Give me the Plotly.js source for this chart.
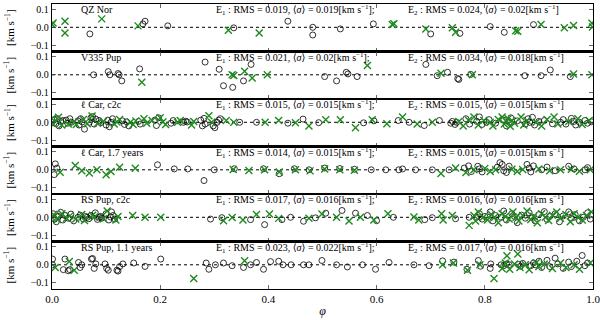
<!DOCTYPE html>
<html>
<head>
<meta charset="utf-8">
<script src="https://cdn.plot.ly/plotly-3.0.1.min.js"></script>
<style>
  html, body { margin: 0; padding: 0; background: #fff; }
  #chart { width: 600px; height: 322px; }
</style>
</head>
<body>
<div id="chart"></div>
<script>
// phase and residual velocity [km/s], one pair of arrays per set and panel

// QZ Nor
var qzPhiO = [0.07, 0.168, 0.172, 0.214, 0.336, 0.436, 0.482, 0.482, 0.533, 0.594, 0.70, 0.754, 0.81, 0.836, 0.89];
var qzResO = [-0.037, 0.019, 0.034, 0.008, -0.003, 0.034, 0.0, -0.043, -0.009, 0.019, -0.037, -0.034, 0.004, -0.028, 0.015];
var qzPhiX = [0.0, 0.002, 0.024, 0.024, 0.092, 0.159, 0.326, 0.383, 0.629, 0.632, 0.691, 0.74, 0.746, 0.857, 0.861, 0.904, 0.947, 0.964, 0.998, 0.999];
var qzResX = [0.015, 0.024, 0.034, -0.032, 0.047, 0.008, -0.017, -0.032, 0.015, 0.02, -0.009, -0.003, -0.028, -0.019, -0.022, 0.015, -0.003, 0.01, 0.023, 0.002];

// V335 Pup
var v335PhiO = [0.077, 0.104, 0.107, 0.122, 0.124, 0.129, 0.162, 0.283, 0.309, 0.317, 0.334, 0.354, 0.368, 0.504, 0.526, 0.544, 0.547, 0.564, 0.691, 0.712, 0.731, 0.75, 0.752, 0.774, 0.874, 0.904, 0.921, 0.958];
var v335ResO = [0.0, 0.018, 0.0, 0.007, 0.0, -0.034, 0.033, 0.071, 0.031, -0.061, -0.07, -0.034, 0.058, -0.01, -0.034, 0.014, 0.005, -0.01, 0.058, -0.005, 0.014, -0.021, -0.026, 0.002, -0.005, -0.005, 0.027, -0.01];
var v335PhiX = [0.166, 0.333, 0.336, 0.356, 0.37, 0.398, 0.583, 0.719, 0.777, 0.964, 0.998];
var v335ResX = [-0.042, 0.0, -0.004, 0.02, -0.018, 0.0, 0.052, 0.009, 0.0, 0.005, 0.0];

// l Car, c2c
var lcarPhiO = [0.004, 0.007, 0.01, 0.013, 0.016, 0.02, 0.026, 0.029, 0.033, 0.036, 0.048, 0.05, 0.053, 0.056, 0.06, 0.069, 0.072, 0.075, 0.078, 0.081, 0.087, 0.09, 0.1, 0.103, 0.106, 0.109, 0.112, 0.13, 0.134, 0.138, 0.142, 0.16, 0.163, 0.19, 0.193, 0.197, 0.22, 0.224, 0.243, 0.247, 0.25, 0.275, 0.278, 0.281, 0.283, 0.298, 0.301, 0.305, 0.308, 0.311,
  0.347, 0.378, 0.436, 0.464, 0.493, 0.576, 0.595, 0.64, 0.66, 0.688, 0.716, 0.737, 0.74, 0.745, 0.748,
  0.765, 0.772, 0.785, 0.79, 0.795, 0.803, 0.808, 0.82, 0.835, 0.84, 0.845, 0.848, 0.86, 0.875, 0.88, 0.883, 0.888, 0.892, 0.9, 0.91, 0.925, 0.94, 0.945, 0.95, 0.96, 0.965, 0.968, 0.975, 0.985, 0.99, 0.997];
var lcarResO = [0.015, -0.008, 0.02, -0.02, 0.005, 0.01, 0.012, -0.005, 0.02, 0.0, 0.008, -0.015, 0.02, 0.002, -0.038, 0.0, 0.025, 0.032, -0.01, 0.018, 0.01, -0.002, -0.015, 0.012, -0.025, 0.0, 0.02, 0.008, -0.012, 0.003, -0.02, 0.005, -0.01, 0.012, -0.018, 0.025, -0.005, 0.01, 0.0, 0.006, 0.002, 0.012, -0.02, 0.022, -0.01, -0.02, -0.03, 0.0, 0.012, 0.02,
  0.0, 0.0, -0.005, 0.018, -0.002, -0.003, 0.008, 0.01, 0.0, -0.018, 0.01, -0.005, 0.005, -0.012, 0.0,
  0.02, -0.01, 0.005, 0.03, -0.012, 0.0, 0.015, -0.005, 0.012, -0.02, 0.0, 0.025, 0.008, -0.01, 0.02, 0.0, 0.028, -0.015, 0.005, 0.01, -0.008, 0.0, 0.015, -0.01, 0.022, 0.005, -0.015, 0.0, 0.01, -0.005, 0.003];
var lcarPhiX = [0.0, 0.003, 0.012, 0.018, 0.03, 0.04, 0.045, 0.058, 0.065, 0.074, 0.084, 0.095, 0.115, 0.12, 0.125, 0.145, 0.15, 0.155, 0.17, 0.175, 0.185, 0.2, 0.205, 0.21, 0.232, 0.237, 0.258, 0.262, 0.29, 0.295, 0.322,
  0.336, 0.394, 0.419, 0.45, 0.475, 0.506, 0.533, 0.561, 0.592, 0.619, 0.648, 0.675, 0.703,
  0.752, 0.76, 0.77, 0.78, 0.788, 0.798, 0.81, 0.815, 0.825, 0.832, 0.836, 0.84, 0.843, 0.847, 0.85, 0.855, 0.867, 0.872, 0.878, 0.895, 0.905, 0.915, 0.928, 0.935, 0.955, 0.972, 0.98, 0.993];
var lcarResX = [0.02, -0.01, 0.028, -0.015, -0.01, 0.0, -0.012, 0.015, -0.008, 0.035, -0.006, 0.005, -0.01, 0.002, 0.015, 0.0, -0.012, 0.008, 0.02, -0.005, 0.01, 0.025, 0.002, -0.012, 0.0, 0.01, -0.015, 0.005, 0.036, 0.0, 0.01,
  0.0, 0.0, 0.01, -0.003, -0.02, 0.014, 0.014, -0.03, 0.014, -0.008, 0.03, -0.01, 0.0,
  0.005, -0.02, 0.012, 0.03, -0.015, 0.01, 0.0, -0.02, 0.015, 0.03, -0.01, 0.005, 0.02, -0.022, 0.01, -0.005, 0.03, -0.015, 0.01, 0.0, -0.02, 0.015, 0.03, -0.01, 0.005, 0.02, -0.012, 0.01];

// l Car, 1.7 years
var lcar17PhiO = [0.006, 0.009, 0.004, 0.195, 0.226, 0.251, 0.281, 0.3, 0.337, 0.391, 0.42, 0.448, 0.475, 0.504, 0.532, 0.559, 0.59, 0.617, 0.641, 0.648, 0.672, 0.703, 0.734,
  0.762, 0.77, 0.775, 0.787, 0.79, 0.795, 0.823, 0.828, 0.832, 0.835, 0.84, 0.845, 0.878, 0.882, 0.885, 0.89, 0.905, 0.915, 0.93, 0.955, 0.965, 0.985, 0.99];
var lcar17ResO = [0.033, 0.009, -0.027, 0.028, 0.005, 0.005, -0.06, 0.0, 0.006, 0.006, -0.022, 0.006, 0.0, 0.01, 0.007, 0.003, 0.0, 0.0, 0.0, 0.005, 0.0, 0.0, 0.0,
  0.01, 0.022, -0.01, 0.02, 0.005, -0.012, 0.015, 0.04, 0.03, -0.005, -0.015, 0.02, 0.03, 0.01, -0.012, 0.022, 0.0, 0.015, -0.005, 0.02, 0.005, 0.0, 0.012];
var lcar17PhiX = [0.015, 0.043, 0.055, 0.069, 0.083, 0.1, 0.109, 0.125, 0.154, 0.335, 0.364, 0.393, 0.42, 0.45, 0.477, 0.504, 0.532, 0.559, 0.719, 0.746, 0.765, 0.78, 0.8, 0.81, 0.82, 0.85, 0.86, 0.87, 0.9, 0.92, 0.94, 0.96, 0.975, 0.995];
var lcar17ResX = [-0.014, 0.024, -0.005, -0.018, 0.0, -0.027, -0.01, 0.014, 0.009, 0.002, -0.004, 0.0, -0.012, 0.0, -0.006, 0.004, 0.0, -0.003, -0.02, 0.01, -0.015, 0.0, 0.008, -0.01, 0.0, 0.003, -0.01, 0.002, 0.005, -0.005, 0.0, 0.003, -0.008, 0.0];

// RS Pup, c2c
var rsPhiO = [0.002, 0.005, 0.008, 0.012, 0.016, 0.02, 0.024, 0.03, 0.035, 0.04, 0.048, 0.052, 0.058, 0.062, 0.065, 0.068, 0.072, 0.08, 0.084, 0.088, 0.09, 0.092, 0.1, 0.105, 0.108, 0.11, 0.113, 0.116,
  0.293, 0.314, 0.367, 0.393, 0.425, 0.441, 0.465, 0.487, 0.506, 0.536, 0.561, 0.583, 0.6, 0.631, 0.689, 0.703, 0.746, 0.771,
  0.785, 0.79, 0.795, 0.8, 0.81, 0.815, 0.82, 0.83, 0.835, 0.84, 0.85, 0.855, 0.86, 0.868, 0.875, 0.882, 0.888, 0.893, 0.9, 0.91, 0.915, 0.92, 0.93, 0.938, 0.945, 0.955, 0.96, 0.967, 0.975, 0.982, 0.99, 0.995];
var rsResO = [0.02, -0.01, -0.025, 0.005, 0.028, -0.015, 0.01, -0.005, 0.018, -0.02, 0.0, 0.012, -0.01, 0.005, 0.0, -0.008, 0.01, 0.025, -0.012, 0.0, 0.005, -0.005, 0.02, -0.015, 0.002, 0.03, 0.01, -0.01,
  -0.01, -0.002, -0.013, -0.041, -0.013, 0.0, -0.022, -0.003, 0.023, 0.038, 0.023, 0.01, -0.019, 0.0, -0.013, -0.002, -0.008, 0.0,
  0.0, 0.02, -0.01, 0.005, 0.03, -0.02, 0.01, 0.0, 0.035, -0.015, 0.02, 0.005, -0.03, 0.012, -0.005, 0.025, 0.0, -0.02, 0.015, 0.032, -0.012, 0.005, 0.02, -0.025, 0.008, 0.03, -0.005, 0.015, -0.02, 0.0, 0.025, -0.01];
var rsPhiX = [0.0, 0.003, 0.01, 0.018, 0.027, 0.033, 0.044, 0.055, 0.06, 0.075, 0.078, 0.095, 0.102, 0.118, 0.122,
  0.149, 0.172, 0.201, 0.317, 0.333, 0.353, 0.378, 0.402, 0.419, 0.475, 0.499, 0.526, 0.549, 0.57, 0.595, 0.621, 0.669, 0.678, 0.72, 0.723, 0.74, 0.771,
  0.78, 0.783, 0.788, 0.797, 0.805, 0.812, 0.818, 0.825, 0.832, 0.838, 0.845, 0.852, 0.858, 0.863, 0.87, 0.878, 0.885, 0.89, 0.897, 0.905, 0.912, 0.918, 0.925, 0.933, 0.94, 0.95, 0.958, 0.965, 0.972, 0.98, 0.988, 0.997];
var rsResX = [0.0, 0.015, -0.012, 0.02, -0.005, 0.008, -0.01, 0.015, -0.018, 0.012, 0.0, -0.008, 0.035, -0.015, 0.005,
  0.01, 0.0, 0.0, -0.019, -0.001, -0.015, 0.015, 0.019, -0.006, -0.005, 0.018, 0.0, -0.02, 0.0, -0.015, 0.02, 0.002, -0.015, 0.02, -0.015, 0.01, -0.045,
  0.01, -0.02, 0.03, 0.0, -0.015, 0.015, 0.0, -0.03, 0.02, 0.005, -0.01, 0.03, 0.0, -0.02, 0.01, 0.035, -0.012, 0.005, -0.03, 0.02, 0.0, -0.018, 0.012, 0.03, -0.005, 0.015, -0.025, 0.02, 0.0, -0.015, 0.01, 0.03];

// RS Pup, 1.1 years
var rs11PhiO = [0.001, 0.001, 0.021, 0.024, 0.03, 0.033, 0.049, 0.052, 0.055, 0.073, 0.075, 0.078, 0.081, 0.098, 0.101, 0.104, 0.12, 0.122, 0.125, 0.131, 0.151, 0.172, 0.201,
  0.285, 0.29, 0.302, 0.317, 0.333, 0.354, 0.367, 0.378, 0.391, 0.404, 0.419, 0.427, 0.442, 0.465, 0.475, 0.499, 0.526, 0.546, 0.574, 0.598, 0.623, 0.669, 0.697, 0.722, 0.743, 0.767,
  0.788, 0.792, 0.811, 0.81, 0.83, 0.835, 0.84, 0.845, 0.862, 0.866, 0.87, 0.885, 0.89, 0.893, 0.9, 0.905, 0.915, 0.92, 0.93, 0.935, 0.945, 0.955, 0.96, 0.97, 0.98, 0.985, 0.99];
var rs11ResO = [0.032, 0.0, -0.027, 0.032, -0.033, -0.027, 0.013, -0.015, 0.0, 0.032, 0.035, -0.02, 0.005, 0.005, -0.02, -0.03, -0.03, -0.035, -0.01, 0.005, 0.01, -0.009, 0.032,
  0.01, -0.025, 0.0, 0.01, -0.005, -0.015, 0.0, 0.013, -0.025, 0.018, 0.02, 0.0, 0.0, 0.0, 0.0, 0.024, 0.0, -0.012, 0.0, -0.025, 0.013, 0.0, -0.005, 0.022, 0.015, -0.025,
  0.024, -0.008, 0.005, -0.02, 0.0, -0.005, 0.005, 0.0, 0.002, -0.008, 0.008, -0.005, 0.01, 0.0, 0.02, -0.015, 0.025, -0.01, 0.037, 0.005, -0.02, 0.015, -0.01, 0.02, 0.052, -0.005, 0.01];
var rs11PhiX = [0.006, 0.032, 0.041, 0.262, 0.356, 0.722, 0.742, 0.768, 0.791, 0.817, 0.832, 0.838, 0.841, 0.846, 0.855, 0.861, 0.865, 0.875, 0.882, 0.895, 0.9, 0.91, 0.925, 0.94, 0.95, 0.965, 0.975, 0.995];
var rs11ResX = [-0.015, 0.018, -0.03, -0.076, 0.022, 0.0, 0.01, -0.03, 0.0, -0.076, -0.02, 0.01, 0.05, -0.025, 0.005, 0.06, -0.015, 0.0, -0.028, 0.012, -0.01, 0.005, -0.02, 0.01, -0.015, 0.0, -0.025, 0.01];

var starNames = ['QZ Nor', 'V335 Pup', 'ℓ Car, c2c', 'ℓ Car, 1.7 years', 'RS Pup, c2c', 'RS Pup, 1.1 years'];
var rms1 = ['0.019', '0.021', '0.015', '0.014', '0.017', '0.023'];
var sig1 = ['0.019', '0.02', '0.015', '0.015', '0.016', '0.022'];
var rms2 = ['0.024', '0.034', '0.015', '0.015', '0.016', '0.017'];
var sig2 = ['0.02', '0.018', '0.015', '0.015', '0.016', '0.016'];
var phaseTicks = [0, 0.2, 0.4, 0.6, 0.8, 1.0];
var resTicks = [-0.1, 0, 0.1];

var panels = [
  [qzPhiO, qzResO, qzPhiX, qzResX],
  [v335PhiO, v335ResO, v335PhiX, v335ResX],
  [lcarPhiO, lcarResO, lcarPhiX, lcarResX],
  [lcar17PhiO, lcar17ResO, lcar17PhiX, lcar17ResX],
  [rsPhiO, rsResO, rsPhiX, rsResX],
  [rs11PhiO, rs11ResO, rs11PhiX, rs11ResX]
];

function draw_panels() {
  var serif = 'Liberation Serif, DejaVu Serif, serif';
  var green = '#1f8a1f';
  var n = panels.length;
  var traces = [];
  var shapes = [];
  var annotations = [];
  var layout = {
    width: 600, height: 322,
    margin: {l: 52, r: 7, t: 4, b: 33},
    paper_bgcolor: '#fff', plot_bgcolor: '#fff',
    showlegend: false,
    font: {family: serif, size: 10, color: '#000'}
  };

  for (var i = 0; i < n; i++) {
    var k = i + 1;
    var xa = k == 1 ? 'x' : 'x' + k;
    var ya = k == 1 ? 'y' : 'y' + k;
    traces.push({
      x: panels[i][0], y: panels[i][1], xaxis: xa, yaxis: ya,
      type: 'scatter', mode: 'markers',
      marker: {symbol: 'circle-open', size: 6, color: '#000', line: {width: 0.8, color: '#000'}}
    });
    traces.push({
      x: panels[i][2], y: panels[i][3], xaxis: xa, yaxis: ya,
      type: 'scatter', mode: 'markers',
      marker: {symbol: 'x-thin-open', size: 7, color: green, line: {width: 1.4, color: green}}
    });

    var dTop = 1 - i / n, dBot = 1 - (i + 1) / n;
    layout['xaxis' + (k == 1 ? '' : k)] = {
      domain: [0, 1], anchor: ya, range: [0, 1],
      showline: true, linewidth: 1.2, linecolor: '#000', mirror: 'ticks',
      ticks: 'inside', ticklen: 4, tickwidth: 0.8, tickvals: phaseTicks,
      showgrid: false, zeroline: false,
      showticklabels: i == n - 1, tickformat: '.1f', ticklabeloverflow: 'allow',
      tickfont: {family: serif, size: 11},
      title: i == n - 1 ? {text: '<i>φ</i>', font: {family: serif, size: 12}, standoff: 2} : {text: ''}
    };
    layout['yaxis' + (k == 1 ? '' : k)] = {
      domain: [dBot, dTop], anchor: xa, range: [-0.135, 0.13],
      showline: true, linewidth: 1.2, linecolor: '#000', mirror: 'ticks',
      ticks: 'inside', ticklen: 4, tickwidth: 0.8, tickvals: resTicks, tickformat: '.1f',
      showgrid: false, zeroline: false,
      tickfont: {family: serif, size: 10}
    };

    shapes.push({type: 'line', xref: xa, yref: ya, x0: 0, x1: 1, y0: 0, y1: 0,
      line: {color: '#000', width: 1, dash: 'dot'}, layer: 'below'});

    annotations.push({xref: xa, yref: ya, x: 0.05, y: 0.098, xanchor: 'left', yanchor: 'middle',
      text: starNames[i], showarrow: false, font: {family: serif, size: 10}});
    annotations.push({xref: xa, yref: ya, x: 0.30, y: 0.095, xanchor: 'left', yanchor: 'middle',
      text: 'E<sub>1</sub> : RMS = ' + rms1[i] + ', ⟨<i>σ</i>⟩ = ' + sig1[i] + '[km s<sup>−1</sup>];',
      showarrow: false, font: {family: serif, size: 10}});
    annotations.push({xref: xa, yref: ya, x: 0.655, y: 0.095, xanchor: 'left', yanchor: 'middle',
      text: 'E<sub>2</sub> : RMS = ' + rms2[i] + ', ⟨<i>σ</i>⟩ = ' + sig2[i] + '[km s<sup>−1</sup>]',
      showarrow: false, font: {family: serif, size: 10}});
    annotations.push({xref: 'paper', yref: 'paper', x: -0.079, y: (dTop + dBot) / 2, xanchor: 'center', yanchor: 'middle',
      textangle: -90, text: '[km s<sup>−1</sup>]', showarrow: false, font: {family: serif, size: 11}});
  }

  layout.shapes = shapes;
  layout.annotations = annotations;
  Plotly.newPlot('chart', traces, layout, {displayModeBar: false, staticPlot: true});
}

draw_panels();
</script>
</body>
</html>
